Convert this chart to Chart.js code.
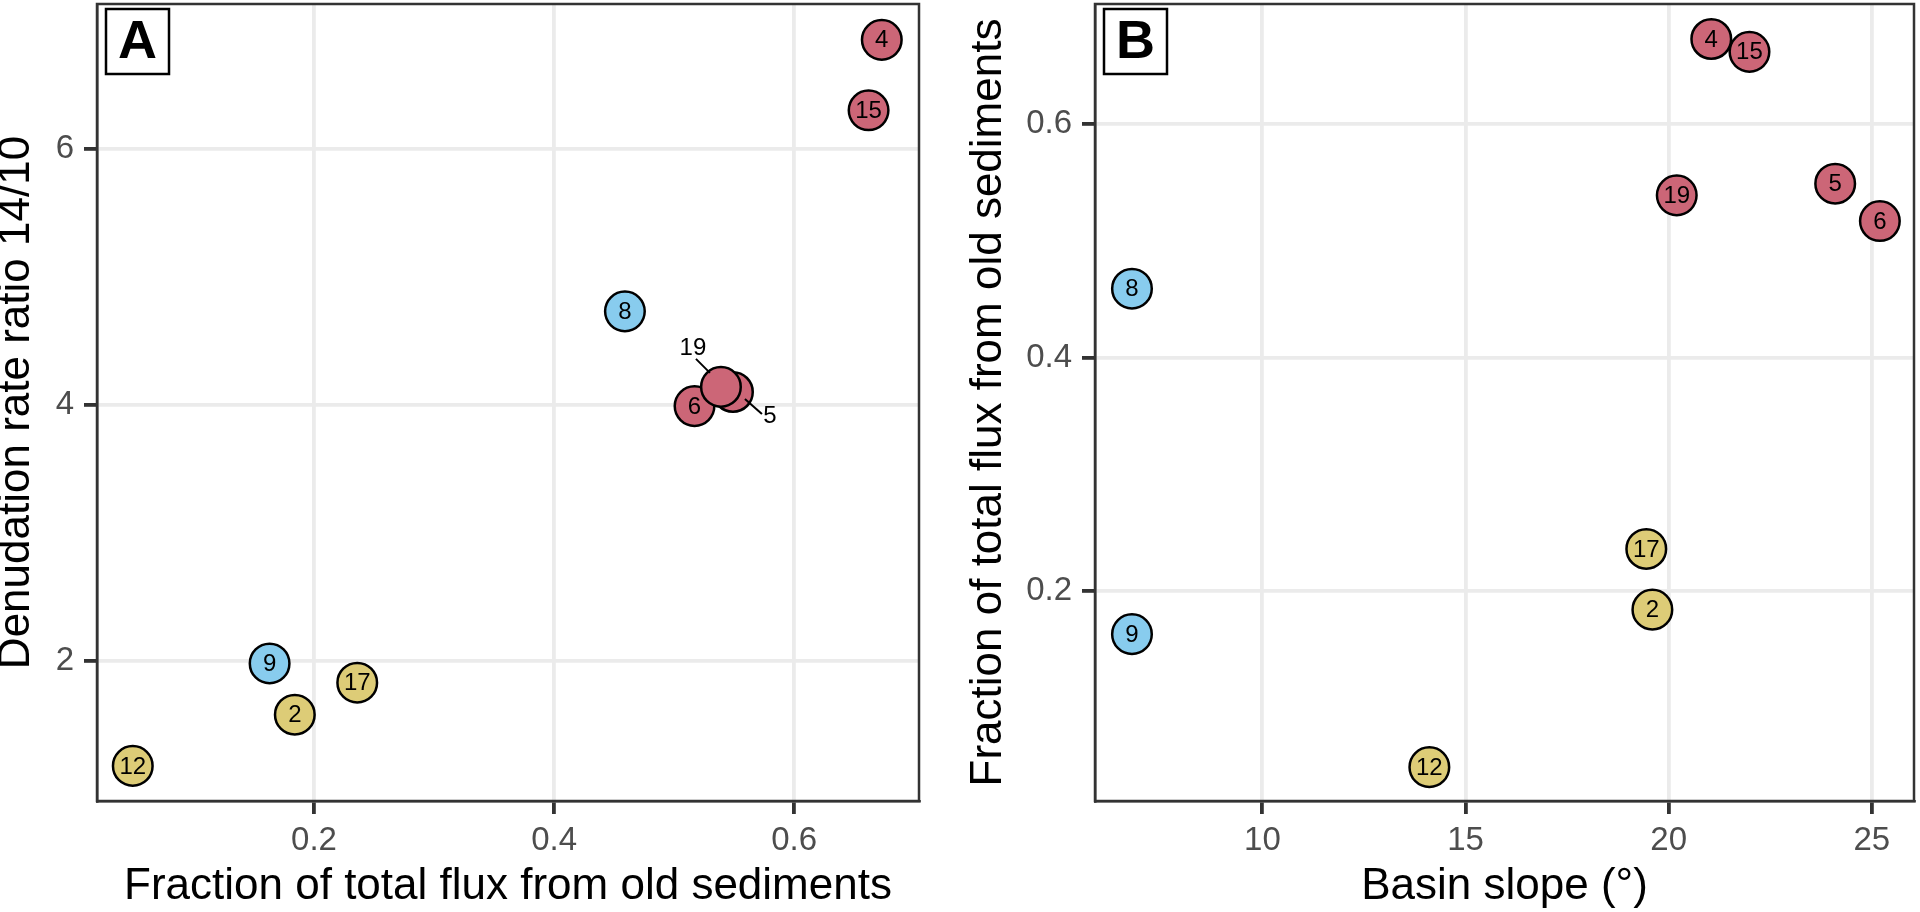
<!DOCTYPE html>
<html>
<head>
<meta charset="utf-8">
<script src="https://cdn.jsdelivr.net/npm/chart.js@4.4.1/dist/chart.umd.min.js"></script>
<style>
html, body { margin: 0; padding: 0; background: #fff; }
#wrap { position: relative; width: 1920px; height: 912px; overflow: hidden; }
canvas { position: absolute; top: 0; }
#chartA { left: 0; }
#chartB { left: 940px; }
</style>
</head>
<body>
<div id="wrap">
  <canvas id="chartA" width="940" height="912"></canvas>
  <canvas id="chartB" width="980" height="912"></canvas>
</div>
<script>
// sites, kept in the order they are drawn (later ones on top)
const sites = [2, 4, 5, 6, 8, 9, 12, 15, 17, 19];
const groups = ["sand", "red", "red", "red", "blue", "blue", "sand", "red", "sand", "red"];
const oldFraction = [0.184, 0.673, 0.549, 0.517, 0.459, 0.163, 0.049, 0.662, 0.236, 0.539];
const ratio1410 = [1.58, 6.85, 4.10, 3.99, 4.73, 1.98, 1.18, 6.30, 1.83, 4.14];
const basinSlope = [19.6, 21.05, 24.1, 25.2, 6.79, 6.79, 14.11, 21.99, 19.45, 20.2];

// tick labels
const ticksFraction = [0.2, 0.4, 0.6];
const ticksRatio = [2, 4, 6];
const ticksSlope = [10, 15, 20, 25];

const palette = { red: "#CC6677", blue: "#88CCEE", sand: "#DDCC77" };
const FONT = '"Liberation Sans", Arial, Helvetica, sans-serif';
Chart.defaults.font.family = FONT;

// frame round the panel, numbers on the points, panel tag
const panelDeco = {
    id: "panelDeco",
    beforeDatasetsDraw(chart) {
        const a = chart.chartArea, ctx = chart.ctx;
        ctx.save();
        ctx.strokeStyle = "#333333";
        ctx.lineWidth = 2.5;
        ctx.strokeRect(a.left, a.top, a.right - a.left, a.bottom - a.top);
        ctx.restore();
    },
    afterDatasetsDraw(chart, args, opts) {
        const ctx = chart.ctx;
        const meta = chart.getDatasetMeta(0);
        const nudge = opts.nudge || {};
        ctx.save();
        ctx.font = "24px " + FONT;
        ctx.fillStyle = "#000";
        ctx.strokeStyle = "#000";
        ctx.lineWidth = 2;
        ctx.textAlign = "center";
        ctx.textBaseline = "middle";
        meta.data.forEach((pt, i) => {
            const n = nudge[sites[i]];
            if (n) {
                ctx.beginPath();
                ctx.moveTo(pt.x + n.line[0], pt.y + n.line[1]);
                ctx.lineTo(pt.x + n.line[2], pt.y + n.line[3]);
                ctx.stroke();
                ctx.fillText(String(sites[i]), pt.x + n.dx, pt.y + n.dy);
            } else {
                ctx.fillText(String(sites[i]), pt.x, pt.y + 1);
            }
        });

        // tag box
        const a = chart.chartArea;
        const bx = a.left + 9, by = a.top + 5, bw = 63, bh = 65;
        ctx.fillStyle = "#fff";
        ctx.fillRect(bx, by, bw, bh);
        ctx.lineWidth = 2.5;
        ctx.strokeRect(bx, by, bw, bh);
        ctx.fillStyle = "#000";
        ctx.font = "bold 54px " + FONT;
        ctx.fillText(opts.tag, bx + bw / 2, by + bh / 2 + 2);
        ctx.restore();
    }
};

const makeAxis = (min, max, tickValues, title, titlePad, isY, size) => ({
    type: "linear",
    min: min,
    max: max,
    afterBuildTicks: scale => { scale.ticks = tickValues.map(v => ({ value: v })); },
    afterFit: scale => {
        if (isY) scale.width = size; else scale.height = size;
        scale.paddingTop = 0; scale.paddingBottom = 0;
        scale.paddingLeft = 0; scale.paddingRight = 0;
    },
    grid: {
        color: "#EBEBEB",
        lineWidth: 3.8,
        tickColor: "#333333",
        tickWidth: 3.8,
        tickLength: 13,
        drawTicks: true
    },
    border: { display: true, color: "#333333", width: 2.5 },
    ticks: {
        autoSkip: false,
        maxRotation: 0,
        padding: isY ? 10 : 7,
        color: "#4D4D4D",
        font: { size: 33 },
        callback: v => String(v)
    },
    title: {
        display: true,
        text: title,
        color: "#000",
        font: { size: 44, lineHeight: 1 },
        padding: titlePad
    }
});

const makeChart = (id, xs, ys, xAxis, yAxis, padRight, tag, nudge) => new Chart(document.getElementById(id), {
    type: "scatter",
    data: {
        datasets: [{
            data: sites.map((s, i) => ({ x: xs[i], y: ys[i] })),
            pointBackgroundColor: groups.map(g => palette[g]),
            pointBorderColor: "#000",
            pointBorderWidth: 2.5,
            pointRadius: 19.8,
            pointHoverRadius: 19.8
        }]
    },
    options: {
        responsive: false,
        devicePixelRatio: 1,
        animation: false,
        events: [],
        layout: { autoPadding: false, padding: { top: 4, right: padRight, left: 0, bottom: 0 } },
        scales: { x: xAxis, y: yAxis },
        plugins: {
            legend: { display: false },
            tooltip: { enabled: false },
            panelDeco: { tag: tag, nudge: nudge }
        }
    },
    plugins: [panelDeco]
});

// Panel A
makeChart("chartA", oldFraction, ratio1410,
    makeAxis(0.0192, 0.704, ticksFraction, "Fraction of total flux from old sediments", { top: 0, bottom: 3 }, false, 111),
    makeAxis(0.906, 7.13, ticksRatio, "Denudation rate ratio 14/10", { top: -5, bottom: 0 }, true, 97),
    21, "A",
    {
        19: { dx: -28, dy: -39, line: [-25, -28, -11, -14] },
        5: { dx: 37, dy: 24, line: [12, 7, 29, 22] }
    });

// Panel B
makeChart("chartB", basinSlope, oldFraction,
    makeAxis(5.88, 26.04, ticksSlope, "Basin slope (°)", { top: 0, bottom: 3 }, false, 111),
    makeAxis(0.020, 0.703, ticksFraction, "Fraction of total flux from old sediments", { top: 26.5, bottom: 0 }, true, 155),
    6, "B", {});
</script>
</body>
</html>
